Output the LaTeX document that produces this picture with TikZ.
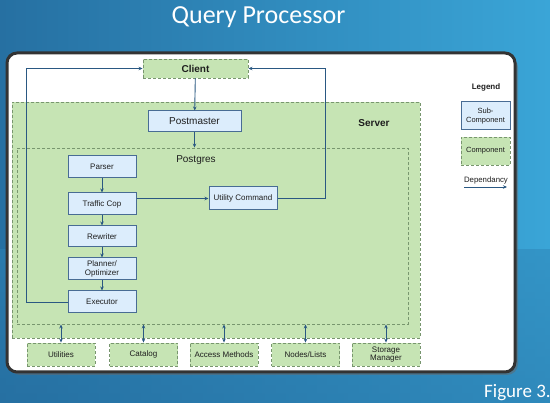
\documentclass[tikz,border=0pt]{standalone}
\usepackage{fontspec}
\setmainfont{Liberation Sans}
\newfontfamily\titlefont{Carlito}
\usetikzlibrary{arrows.meta,shadows}
\definecolor{bgA}{RGB}{38,112,162}
\definecolor{bgB}{RGB}{58,165,215}
\definecolor{grfill}{RGB}{198,228,180}
\definecolor{grline}{RGB}{120,150,110}
\definecolor{blfill}{RGB}{220,237,252}
\definecolor{blline}{RGB}{72,108,148}
\definecolor{arr}{RGB}{42,88,130}
\definecolor{txt}{RGB}{30,30,30}
\tikzset{
  comp/.style={draw=grline, fill=grfill, line width=0.9pt, dash pattern=on 3pt off 2pt, inner sep=0pt, text=txt},
  sub/.style={draw=blline, fill=blfill, line width=1pt, inner sep=0pt, text=txt, font=\fontsize{8}{9}\selectfont, align=center},
  dep/.style={draw=arr, line width=0.9pt, -{Stealth[length=4pt,width=3.5pt]}},
  bidep/.style={draw=arr, line width=0.9pt, {Stealth[length=4pt,width=3.5pt]}-{Stealth[length=4pt,width=3.5pt]}},
  lbl/.style={text=txt, inner sep=0pt}
}
\begin{document}
\begin{tikzpicture}[x=1pt,y=-1pt]
\useasboundingbox (0,0) rectangle (550,403);
\shade[left color=bgA, right color=bgB] (0,0) rectangle (550,403);
\shade[top color=bgA!60!bgB, bottom color=bgA, opacity=0.5] (0,250) rectangle (550,403);
% title
\node[anchor=base, text=white, font=\titlefont\fontsize{26}{30}\selectfont, inner sep=0pt] (title) at (258.5,24) {Query Processor};
\node[anchor=base west, text=white, font=\titlefont\fontsize{19}{22}\selectfont, inner sep=0pt] (fig) at (484,398) {Figure 3.};
% white panel
\fill[black!60, opacity=0.5, rounded corners=11pt] (9,56) rectangle (518,375);
\draw[fill=white, draw=black!80, line width=3pt, rounded corners=10pt] (7,53) rectangle (515,372);
% server
\node[comp, minimum width=408pt, minimum height=236pt] (server) at (216,220) {};
\node[lbl, font=\bfseries\fontsize{10}{12}\selectfont] (serverlbl) at (374,123) {Server};
\node[comp, minimum width=391pt, minimum height=176pt] (postgres) at (212.5,236) {};
\node[lbl, font=\fontsize{10}{12}\selectfont] (postgreslbl) at (196,160) {Postgres};
% client
\node[comp, minimum width=105pt, minimum height=19pt, font=\bfseries\fontsize{10}{12}\selectfont] (client) at (195.5,68.5) {Client};
\node[sub, minimum width=93pt, minimum height=21pt, font=\fontsize{10}{12}\selectfont] (postmaster) at (194.5,121.5) {Postmaster};
% subcomponents
\node[sub, minimum width=68pt, minimum height=22pt] (parser) at (102,167) {Parser};
\node[sub, minimum width=68pt, minimum height=22pt] (traffic) at (102,204) {Traffic Cop};
\node[sub, minimum width=68pt, minimum height=21pt] (rewriter) at (102,236.5) {Rewriter};
\node[sub, minimum width=68pt, minimum height=22pt, font=\fontsize{8}{8.5}\selectfont] (planner) at (102,269) {Planner/\\Optimizer};
\node[sub, minimum width=68pt, minimum height=22pt] (executor) at (102,302) {Executor};
\node[sub, minimum width=68pt, minimum height=23pt] (utility) at (243,198.5) {Utility Command};
% bottom components
\tikzset{bot/.style={comp, minimum width=68pt, minimum height=23pt, font=\fontsize{8}{8.5}\selectfont, align=center}}
\node[bot] (utilities) at (61,354.5) {Utilities};
\node[bot] (catalog) at (143.5,354.5) {Catalog};
\node[bot] (access) at (224,354.5) {Access Methods};
\node[bot] (nodes) at (305.5,354.5) {Nodes/Lists};
\node[bot] (storage) at (386,354.5) {Storage\\Manager};
% legend
\node[lbl, font=\bfseries\fontsize{8}{10}\selectfont] (legend) at (486,87) {Legend};
\node[sub, minimum width=49pt, minimum height=28pt, font=\fontsize{7.5}{8.5}\selectfont] (legsub) at (485.5,116) {Sub-\\Component};
\node[comp, minimum width=49pt, minimum height=28pt, font=\fontsize{7.5}{8.5}\selectfont] (legcomp) at (485.5,151) {Component};
\node[lbl, font=\fontsize{7.8}{9}\selectfont] (legdep) at (486,180) {Dependancy};
\coordinate (depa) at (464,187);
\coordinate (depb) at (507,187);
\draw[dep] (depa) -- (depb);
% connectors
\draw[dep] (client) -- (postmaster);
\draw[dep] (postmaster) -- (postmaster |- postgres.north);
\draw[dep] (parser) -- (traffic);
\draw[dep] (traffic) -- (rewriter);
\draw[dep] (rewriter) -- (planner);
\draw[dep] (planner) -- (executor);
\draw[dep] (traffic.east |- utility.west) -- (utility.west);
\draw[dep] (executor.west) -- ++(-41,0) |- (client.west);
\draw[dep] (utility.east) -- ++(48,0) |- (client.east);
\foreach \b in {utilities,catalog,access,nodes,storage}
  \draw[bidep] (\b.north |- postgres.south) -- (\b.north);
\end{tikzpicture}
\end{document}
